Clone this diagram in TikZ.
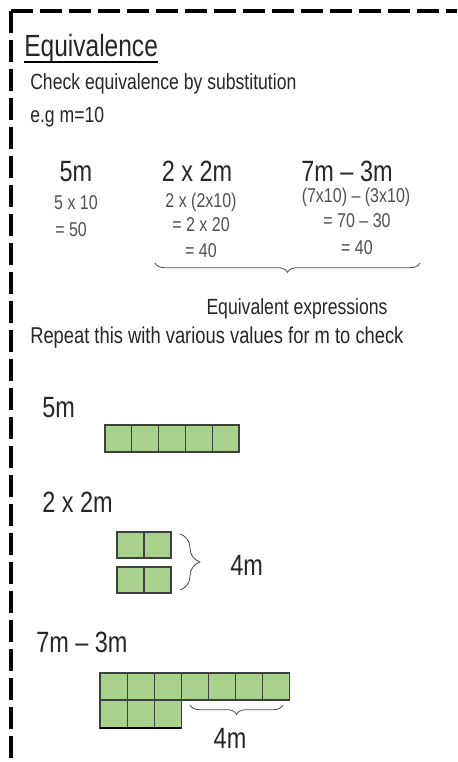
\documentclass[tikz,border=0pt]{standalone}
\usepackage{fontspec}
\setmainfont{Liberation Sans}[FakeStretch=0.8]
\usepackage{tikz}
\usetikzlibrary{decorations.pathreplacing, calc}
\definecolor{blockgreen}{RGB}{169, 209, 142}
\definecolor{inkgray}{RGB}{38, 38, 38}
\definecolor{stepgray}{RGB}{80, 80, 80}

\begin{document}
\begin{tikzpicture}[x=0.75pt, y=-0.75pt,
  every node/.style={inner sep=0pt, text=inkgray},
  head/.style={font=\fontsize{22}{26}\selectfont},
  body/.style={font=\fontsize{16.5}{20}\selectfont},
  working/.style={font=\fontsize{15}{18}\selectfont, text=stepgray},
  block/.style={fill=blockgreen, draw=black!75, line width=0.8pt},
  curly/.style={decorate, decoration={brace, amplitude=#1}, draw=black!70, line width=0.6pt},
  curly/.default=6pt]
  \useasboundingbox (0,0) rectangle (457,762);
  % Dashed margin
  \draw[line width=3pt, dash pattern=on 16.5pt off 5.25pt] (11,11) -- (457,11);
  \draw[line width=3pt, dash pattern=on 16.5pt off 5.25pt] (11,11) -- (11,762);
  % Heading and intro
  \node[anchor=base west, font=\fontsize{23}{28}\selectfont] (title) at (24,57) {Equivalence};
  \draw[line width=1.1pt] ([yshift=-3.8pt]title.base west) -- ([yshift=-3.8pt]title.base east);
  \node[body, anchor=base west] (check) at (30,90) {Check equivalence by substitution};
  \node[body, anchor=base west] (eg) at (30,123) {e.g m=10};
  % Expressions and substitution
  \node[head, anchor=base] (five) at (76,182) {5m};
  \node[head, anchor=base] (twice) at (197,182) {2 x 2m};
  \node[head, anchor=base] (diff) at (347,182) {7m -- 3m};
  \node[working, anchor=base] (fiveA) at (76,210) {5 x 10};
  \node[working, anchor=base west] (fiveB) at (55,237) {= 50};
  \node[working, anchor=base] (twiceA) at (201,208) {2 x (2x10)};
  \node[working, anchor=base] (twiceB) at (201,232) {= 2 x 20};
  \node[working, anchor=base] (twiceC) at (201,258) {= 40};
  \node[working, anchor=base] (diffA) at (356,203) {(7x10) -- (3x10)};
  \node[working, anchor=base] (diffB) at (357,228) {= 70 -- 30};
  \node[working, anchor=base] (diffC) at (357,255) {= 40};
  \coordinate (braceL) at (155,263);
  \coordinate (braceR) at (420,263);
  \draw[curly=7pt, decoration={mirror}] (braceL) -- (braceR);
  \node[body, anchor=base] (equiv) at (297,315) {Equivalent expressions};
  \node[body, anchor=base west, font=\fontsize{17.2}{20}\selectfont] (repeat) at (30,343) {Repeat this with various values for m to check};
  % Bar model: 5m
  \node[head, anchor=base west] (fiveLbl) at (42,417) {5m};
  \foreach \i in {0,...,4}
    \draw[block] (105+\i*26.8,425) rectangle ++(26.8,27);
  % Bar model: 2 x 2m
  \node[head, anchor=base west] (twiceLbl) at (42,512) {2 x 2m};
  \foreach \r in {0,1}
    \foreach \i in {0,1}
      \draw[block] (117+\i*27,532+\r*35) rectangle ++(27,26);
  \coordinate (pairTop) at (180,534);
  \coordinate (pairBot) at (180,590);
  \draw[curly=15pt] (pairTop) -- (pairBot);
  \node[head, anchor=base west] (fourA) at (230,575) {4m};
  % Bar model: 7m - 3m
  \node[head, anchor=base west] (diffLbl) at (36,652) {7m -- 3m};
  \foreach \i in {0,...,6}
    \draw[block] (100+\i*27.1,673) rectangle ++(27.1,27);
  \foreach \i in {0,1,2}
    \draw[block] (100+\i*27.1,700) rectangle ++(27.1,28);
  \draw[line width=1.5pt] (100,728) -- (181.3,728);
  \coordinate (restL) at (190,705);
  \coordinate (restR) at (283,705);
  \draw[curly=7pt, decoration={mirror}] (restL) -- (restR);
  \node[head, anchor=base] (fourB) at (230,748) {4m};
\end{tikzpicture}
\end{document}
